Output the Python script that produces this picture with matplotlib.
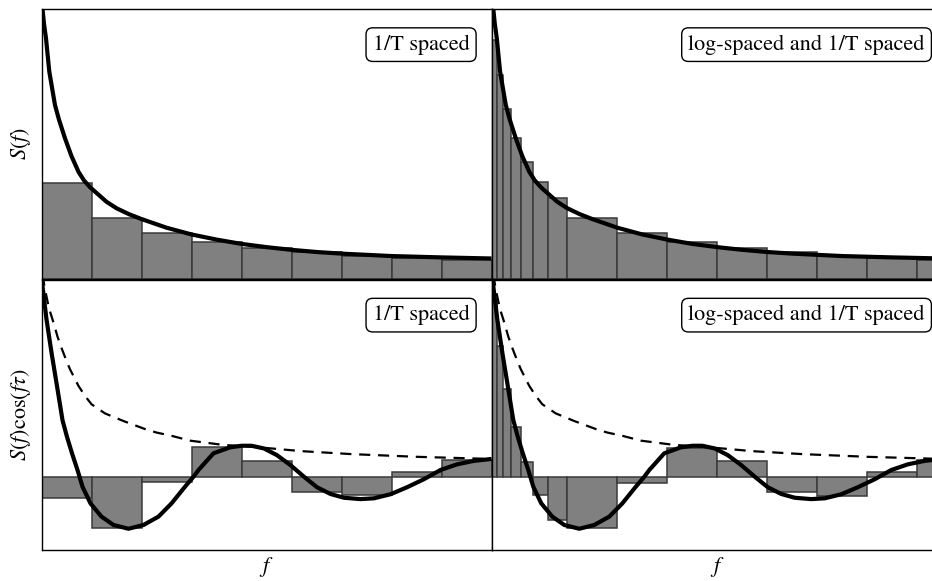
import numpy as np
import matplotlib
matplotlib.use("Agg")
import matplotlib.pyplot as plt

plt.rcParams['font.family'] = ['STIXGeneral', 'DejaVu Serif']
plt.rcParams['mathtext.fontset'] = 'stix'

# ---------------- data ----------------
# spectrum S(f), top-panel units
f_S = [0.0, 0.01, 0.02, 0.05, 0.09, 0.156, 0.2, 0.27, 0.35, 0.47, 0.6, 0.74, 0.85, 0.97,
       1.3, 1.5, 1.75, 2.0, 2.5, 3.0, 3.5, 4.0, 4.5, 5.0, 5.5, 6.0, 7.0, 8.0, 9.0]
S_top = [12.5, 10.8, 10.0, 9.45, 8.91, 7.68, 7.2, 6.44, 5.9, 5.21, 4.55, 3.97, 3.65, 3.40,
         2.86, 2.62, 2.40, 2.22, 1.90, 1.65, 1.46, 1.30, 1.18, 1.08, 1.00, 0.94, 0.85, 0.80, 0.76]

# envelope S(f) (dashed), bottom-panel units
f_env = [0.0, 0.02, 0.07, 0.15, 0.24, 0.32, 0.41, 0.5, 0.57, 0.74, 0.87, 1.0, 1.27, 1.65,
         2.07, 2.3, 2.6, 2.97, 3.64, 4.1, 4.6, 5.2, 6.2, 7.5, 9.0]
S_env = [8.2, 7.5, 6.95, 6.25, 5.72, 5.2, 4.73, 4.3, 3.99, 3.37, 3.0, 2.69, 2.35, 2.06,
         1.77, 1.64, 1.52, 1.34, 1.18, 1.13, 1.05, 0.95, 0.84, 0.74, 0.66]

# S(f)cos(f tau), bottom-panel units
f_C = [0.0, 0.02, 0.10, 0.20, 0.32, 0.42, 0.51, 0.61, 0.72, 0.82, 0.98, 1.20, 1.44, 1.74,
       2.04, 2.34, 2.60, 2.87, 3.04, 3.14, 3.44, 3.77, 4.0, 4.2, 4.45, 4.71, 4.98, 5.25,
       5.51, 5.78, 6.05, 6.38, 6.65, 6.98, 7.31, 7.65, 7.98, 8.31, 8.65, 9.0]
SC = [7.45, 7.07, 5.84, 4.61, 3.25, 2.10, 1.48, 0.87, 0.25, -0.37, -0.99, -1.48, -1.79, -1.93,
      -1.79, -1.48, -0.99, -0.37, 0.0, 0.25, 0.87, 1.09, 1.15, 1.15, 1.05, 0.80, 0.43, 0.0,
      -0.39, -0.64, -0.78, -0.83, -0.80, -0.65, -0.39, -0.09, 0.25, 0.46, 0.59, 0.66]

# 1/T spaced bins (left column)
edges_lin = [0, 1, 2, 3, 4, 5, 6, 7, 8, 9]
bars_lin_S = [3.54, 2.27, 1.69, 1.36, 1.16, 1.01, 0.86, 0.77, 0.70]
bars_lin_C = [-0.80, -1.89, -0.21, 1.09, 0.59, -0.56, -0.69, 0.17, 0.64]

# log-spaced and 1/T spaced bins (right column)
edges_mix = [0, 0.09, 0.22, 0.375, 0.575, 0.82, 1.12, 1.5, 2.5, 3.5, 4.5, 5.5, 6.5, 7.5, 8.5, 9.5]
bars_mix_S = [8.85, 7.56, 6.28, 5.23, 4.32, 3.60, 2.99, 2.26, 1.71, 1.38, 1.14, 0.99, 0.86, 0.77, 0.70]
bars_mix_C = [6.5, 4.87, 3.27, 1.84, 0.55, -0.66, -1.59, -1.90, -0.25, 1.07, 0.59, -0.56, -0.71, 0.18, 0.64]

labels = ["1/T spaced", "log-spaced and 1/T spaced"]

# ---------------- figure ----------------
W, H = 932, 581
fig = plt.figure(figsize=(W / 100, H / 100), dpi=100)

def fx(px):
    return px / W

def fy(py):
    return 1 - py / H

axw = 450 / W
axh = 270 / H
ax_tl = fig.add_axes([fx(41.5), fy(279), axw, axh])
ax_tr = fig.add_axes([fx(492.3), fy(279), axw, axh])
ax_bl = fig.add_axes([fx(41.5), fy(549.5), axw, axh])
ax_br = fig.add_axes([fx(492.3), fy(549.5), axw, axh])

bar_kw = dict(align='edge', color='#808080', edgecolor='#3a3a3a', linewidth=1.1, zorder=1)
curve_kw = dict(color='black', linewidth=3.0, zorder=3, solid_capstyle='butt')
dash_kw = dict(color='black', linewidth=1.6, linestyle=(0, (5, 3.5)), zorder=2)

def draw_bars(ax, edges, vals):
    e = np.asarray(edges, dtype=float)
    ax.bar(e[:-1], vals, width=np.diff(e), **bar_kw)

draw_bars(ax_tl, edges_lin, bars_lin_S)
draw_bars(ax_tr, edges_mix, bars_mix_S)
draw_bars(ax_bl, edges_lin, bars_lin_C)
draw_bars(ax_br, edges_mix, bars_mix_C)

for ax in (ax_tl, ax_tr):
    ax.plot(f_S, S_top, **curve_kw)
    ax.set_ylim(0, 10)

for ax in (ax_bl, ax_br):
    ax.plot(f_env, S_env, **dash_kw)
    ax.plot(f_C, SC, **curve_kw)
    ax.set_ylim(-2.70, 7.32)

box = dict(boxstyle='round,pad=0.3', facecolor='white', edgecolor='black', linewidth=1.0)
for ax, lab, xr in ((ax_tl, labels[0], 0.951), (ax_tr, labels[1], 0.961),
                    (ax_bl, labels[0], 0.951), (ax_br, labels[1], 0.961)):
    ax.text(xr, 0.868, lab, transform=ax.transAxes, ha='right', va='center',
            fontsize=16, bbox=box, zorder=5)

for ax in (ax_tl, ax_tr, ax_bl, ax_br):
    ax.set_xlim(0, 9)
    ax.set_xticks([])
    ax.set_yticks([])
    for sp in ax.spines.values():
        sp.set_linewidth(1.0)
        sp.set_color('black')
        sp.set_zorder(4)

ax_tl.set_ylabel(r'$S(f)$', fontsize=16, labelpad=6)
ax_bl.set_ylabel(r'$S(f)\cos(f\tau)$', fontsize=16, labelpad=6)
ax_bl.set_xlabel(r'$f$', fontsize=16, labelpad=4)
ax_br.set_xlabel(r'$f$', fontsize=16, labelpad=4)

fig.savefig('out.png', dpi=100)
